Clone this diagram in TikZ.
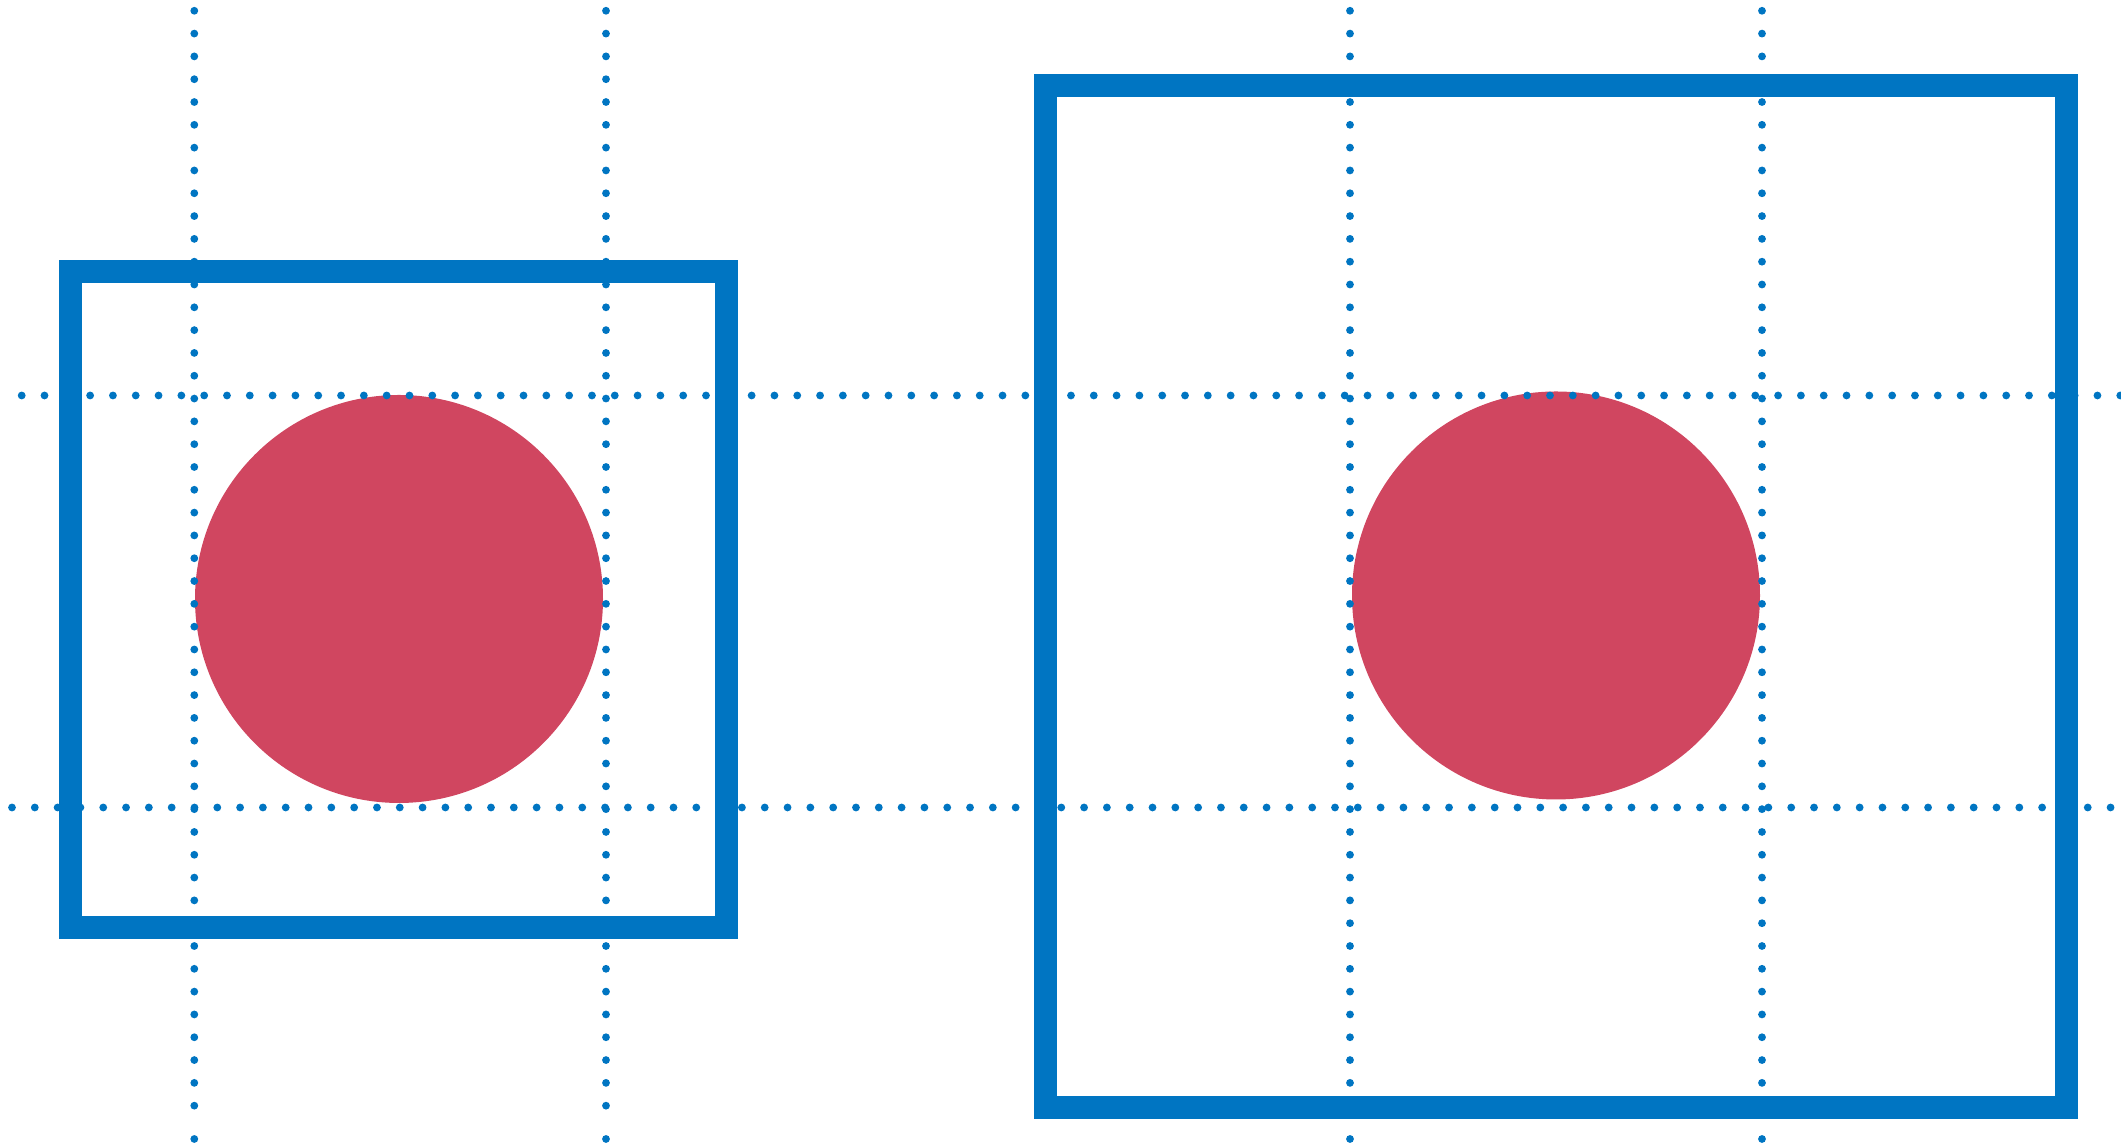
\documentclass[tikz,border=0pt]{standalone}
\usetikzlibrary{calc}
\usepackage{tkz-euclide}
\definecolor{FrameClr}{rgb}{0,0.46,0.76}
\definecolor{DiscClr}{rgb}{0.816,0.275,0.376}
\tikzset{dotline/.style={line width=.078cm,line cap=round,dash pattern=on 0pt off .2281cm,color=FrameClr}}

\begin{document}
\begin{tikzpicture}
\useasboundingbox (0,0) rectangle (21.21,11.44);

\tkzDefPoints{0.703/8.723/A,7.263/8.723/B,7.263/2.167/C,0.703/2.167/D}
\tkzDefPoints{10.457/10.587/E,20.668/10.587/F,20.668/0.367/G,10.457/0.367/H}
\tkzDefPoints{3.99/5.45/O,6.03/5.45/P,15.56/5.485/Q,17.60/5.485/R}

% grid of dotted guides
\tkzDefPoints{1.943/11.332/U1,6.06/11.332/U2,13.50/11.332/U3,17.62/11.332/U4}
\tkzDefPoints{1.943/0.37/L1,6.06/0.37/L2,13.50/0.37/L3,17.62/0.37/L4}
\tkzDefPoints{1.943/0.05/K1,6.06/0.05/K2,13.50/0.05/K3,17.62/0.05/K4}
\tkzDefPoints{0.217/7.485/S1,21.21/7.485/T1,0.12/3.365/S2,21.21/3.365/T2}

\tkzFillCircle[fill=DiscClr](O,P)
\tkzFillCircle[fill=DiscClr](Q,R)

\tkzDrawPolygon[line width=.227cm,line join=miter,color=FrameClr](A,B,C,D)
\tkzDrawPolygon[line width=.227cm,line join=miter,color=FrameClr](E,F,G,H)

\tkzDrawSegments[dotline](U1,L1 U2,L2 U3,L3 U4,L4)
\tkzDrawSegments[dotline](S1,T1 S2,T2)
\foreach \k in {1,...,4}
  \fill[FrameClr] (K\k) circle (.039cm);

\end{tikzpicture}
\end{document}
